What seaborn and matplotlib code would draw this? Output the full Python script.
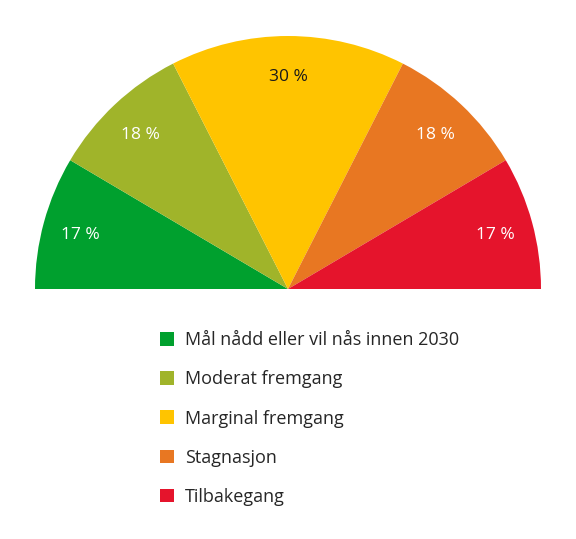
import matplotlib.pyplot as plt
import numpy as np
import pandas as pd
import seaborn as sns

categories = ['Mål nådd eller vil nås innen 2030', 'Moderat fremgang', 'Marginal fremgang',
              'Stagnasjon', 'Tilbakegang']
shares = [17, 18, 30, 18, 17]
share_labels = ['17 %', '18 %', '30 %', '18 %', '17 %']
colors = ['#00a02e', '#a0b42a', '#ffc400', '#e87722', '#e5142c']
label_colors = ['white', 'white', '#1a1a1a', 'white', 'white']

sns.set_theme(style='white')
plt.rcParams['font.family'] = ['Open Sans', 'DejaVu Sans']

df = pd.DataFrame({'Category': categories, 'Share': shares})

fig = plt.figure(figsize=(5.76, 5.39), dpi=100)
ax = fig.add_axes([0, 0, 1, 1])

cx, cy, r = 288, 539 - 289, 253
# hidden lower half so the visible wedges fill only the top semicircle
values = list(df['Share']) + [df['Share'].sum()]
wedges, _ = ax.pie(values, colors=colors + ['none'], startangle=180, counterclock=False,
                   center=(cx, cy), radius=r, frame=True,
                   wedgeprops=dict(linewidth=0))
ax.set_xlim(0, 576)
ax.set_ylim(0, 539)
ax.set_aspect('equal')
ax.axis('off')

for w, lab, tc in zip(wedges[:-1], share_labels, label_colors):
    ang = np.deg2rad((w.theta1 + w.theta2) / 2)
    ax.text(cx + 0.85 * r * np.cos(ang), cy + 0.85 * r * np.sin(ang) - 3, lab,
            ha='center', va='center', fontsize=12.5, color=tc)

ax.legend(wedges[:-1], df['Category'], loc='upper left', bbox_to_anchor=(144, 539 - 315),
          bbox_transform=ax.transData, frameon=False, fontsize=13,
          handlelength=0.78, handleheight=0.78, handletextpad=0.6, labelspacing=1.17)

fig.savefig('out.png', dpi=100)
